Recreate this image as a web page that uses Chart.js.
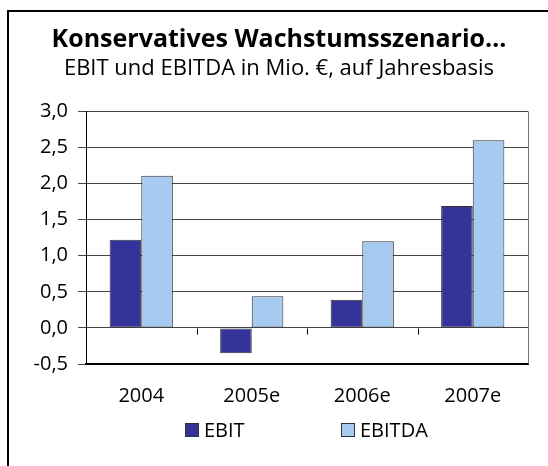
<!DOCTYPE html>
<html>
<head>
<meta charset="utf-8">
<script src="https://cdn.jsdelivr.net/npm/chart.js@4/dist/chart.umd.min.js"></script>
<style>
  html, body { margin: 0; padding: 0; background: #fff; overflow: hidden; }
  #wrap { position: relative; width: 548px; height: 466px; }
  #frame { position: absolute; left: 7px; top: 10px; width: 600px; height: 500px;
           border-left: 2px solid #000; border-top: 2px solid #000; }
  #chart { position: absolute; left: 0; top: 0; }
</style>
</head>
<body>
<div id="wrap">
  <div id="frame"></div>
  <canvas id="chart" width="548" height="466"></canvas>
</div>
<script>
const categories = ['2004', '2005e', '2006e', '2007e'];
const ebit = [1.22, -0.35, 0.39, 1.69];
const ebitda = [2.11, 0.44, 1.20, 2.60];
const seriesNames = ['EBIT', 'EBITDA'];
const seriesColors = ['#333399', '#A6CAF0'];

const FONT = '"Open Sans", "Noto Sans", sans-serif';

// Rahmen rechts, Kategorie-Striche an der Nulllinie, Legende
const extras = {
  id: 'extras',
  afterDatasetsDraw(chart) {
    const { ctx, chartArea } = chart;
    const x = chart.scales.x, y = chart.scales.y;
    const y0 = Math.round(y.getPixelForValue(0)) + 0.5;
    ctx.save();
    ctx.strokeStyle = '#000';
    ctx.lineWidth = 1;
    ctx.beginPath();
    for (let i = 1; i < categories.length; i++) {
      const px = Math.round((x.getPixelForValue(i - 1) + x.getPixelForValue(i)) / 2) + 0.5;
      ctx.moveTo(px, y0);
      ctx.lineTo(px, y0 + 6);
    }
    ctx.stroke();
    ctx.strokeStyle = '#777';
    ctx.beginPath();
    ctx.moveTo(chartArea.right + 0.5, chartArea.top);
    ctx.lineTo(chartArea.right + 0.5, chartArea.bottom);
    ctx.stroke();

    // Legende
    const legendX = [185, 341];
    const legendY = 423;
    ctx.font = '20px ' + FONT;
    ctx.textBaseline = 'middle';
    ctx.textAlign = 'left';
    chart.data.datasets.forEach((ds, i) => {
      ctx.fillStyle = ds.backgroundColor;
      ctx.fillRect(legendX[i], legendY, 14, 14);
      ctx.strokeStyle = '#333';
      ctx.strokeRect(legendX[i] + 0.5, legendY + 0.5, 13, 13);
      ctx.fillStyle = '#000';
      ctx.fillText(ds.label, legendX[i] + 19, legendY + 8);
    });
    ctx.restore();
  }
};

new Chart(document.getElementById('chart'), {
  type: 'bar',
  data: {
    labels: categories,
    datasets: [
      { label: seriesNames[0], data: ebit, backgroundColor: seriesColors[0] },
      { label: seriesNames[1], data: ebitda, backgroundColor: seriesColors[1] }
    ]
  },
  options: {
    responsive: false,
    animation: false,
    layout: { padding: { left: 30, right: 20, top: 0, bottom: 38 } },
    datasets: {
      bar: {
        categoryPercentage: 0.572,
        barPercentage: 1,
        borderColor: '#333',
        borderWidth: 1,
        borderSkipped: false
      }
    },
    plugins: {
      legend: { display: false },
      tooltip: { enabled: false },
      title: {
        display: true,
        text: 'Konservatives Wachstumsszenario…',
        color: '#000',
        font: { family: FONT, size: 25, weight: 'bold', lineHeight: 1.2 },
        padding: { top: 25, bottom: 1 }
      },
      subtitle: {
        display: true,
        text: 'EBIT und EBITDA in Mio. €, auf Jahresbasis',
        color: '#000',
        font: { family: FONT, size: 22, lineHeight: 1.2 },
        padding: { top: 0, bottom: 29 }
      }
    },
    scales: {
      x: {
        grid: { display: false, drawTicks: false },
        border: { display: true, color: '#000', width: 2 },
        ticks: { color: '#000', padding: 20, font: { family: FONT, size: 20 } }
      },
      y: {
        min: -0.5,
        max: 3.0,
        afterFit(scale) { scale.width = 56; },
        grid: { color: '#444', lineWidth: 1, tickLength: 8 },
        border: { display: true, color: '#000', width: 1 },
        ticks: {
          stepSize: 0.5,
          color: '#000',
          padding: 10,
          font: { family: FONT, size: 20 },
          callback: v => v.toFixed(1).replace('.', ',')
        }
      }
    }
  },
  plugins: [extras]
});
</script>
</body>
</html>
